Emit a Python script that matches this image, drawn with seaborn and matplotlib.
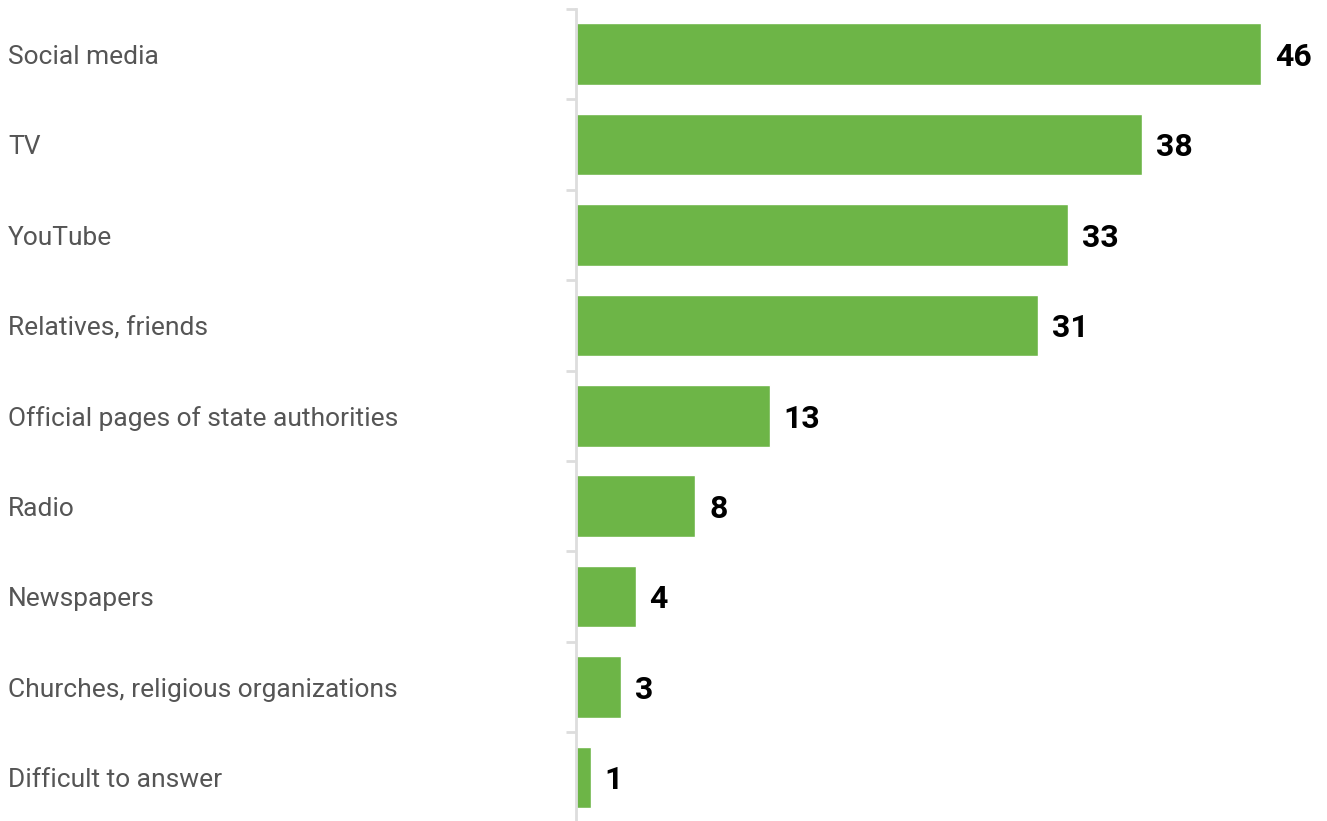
import matplotlib
matplotlib.use("Agg")
import matplotlib.pyplot as plt
import matplotlib.transforms as mtransforms
import seaborn as sns
import pandas as pd

categories = [
    "Social media",
    "TV",
    "YouTube",
    "Relatives, friends",
    "Official pages of state authorities",
    "Radio",
    "Newspapers",
    "Churches, religious organizations",
    "Difficult to answer",
]
values = [46, 38, 33, 31, 13, 8, 4, 3, 1]

df = pd.DataFrame({"category": categories, "value": values})

sns.set_theme(style="white")
plt.rcParams["font.family"] = ["Roboto", "DejaVu Sans"]

W, H, DPI = 1327, 821, 100
fig = plt.figure(figsize=(W / DPI, H / DPI), dpi=DPI)
ax_left = 576 / W
ax_top = 1 - 9 / H
ax = fig.add_axes([ax_left, -0.002, 1 - ax_left, ax_top + 0.002])

sns.barplot(data=df, x="value", y="category", orient="h", color="#6db547",
            saturation=1, width=0.68, ax=ax)

ax.set_xlim(0, (W - 576) / 14.9)
ax.set_ylim(len(categories) - 0.5, -0.5)

for s in ["top", "right", "bottom"]:
    ax.spines[s].set_visible(False)
ax.spines["left"].set_color("#dddddd")
ax.spines["left"].set_linewidth(2)
ax.set_xticks([])
ax.set_xlabel("")
ax.set_ylabel("")

# category boundary ticks on the left spine
ax.set_yticks([i - 0.5 for i in range(len(categories) + 1)])
ax.set_yticklabels([])
ax.tick_params(axis="y", length=7, width=2, color="#dddddd", left=True)

# left-aligned category labels
trans = mtransforms.blended_transform_factory(fig.transFigure, ax.transData)
for i, cat in enumerate(categories):
    ax.annotate(cat, xy=(8 / W, i), xycoords=trans, xytext=(0, -2),
                textcoords="offset points", ha="left", va="center",
                fontsize=19, color="#555555")

# value labels
for i, v in enumerate(values):
    ax.annotate(str(v), xy=(v, i), xytext=(10, -2), textcoords="offset points",
                ha="left", va="center", fontsize=23, fontweight="bold",
                color="#000000")

fig.savefig("out.png", dpi=DPI)
